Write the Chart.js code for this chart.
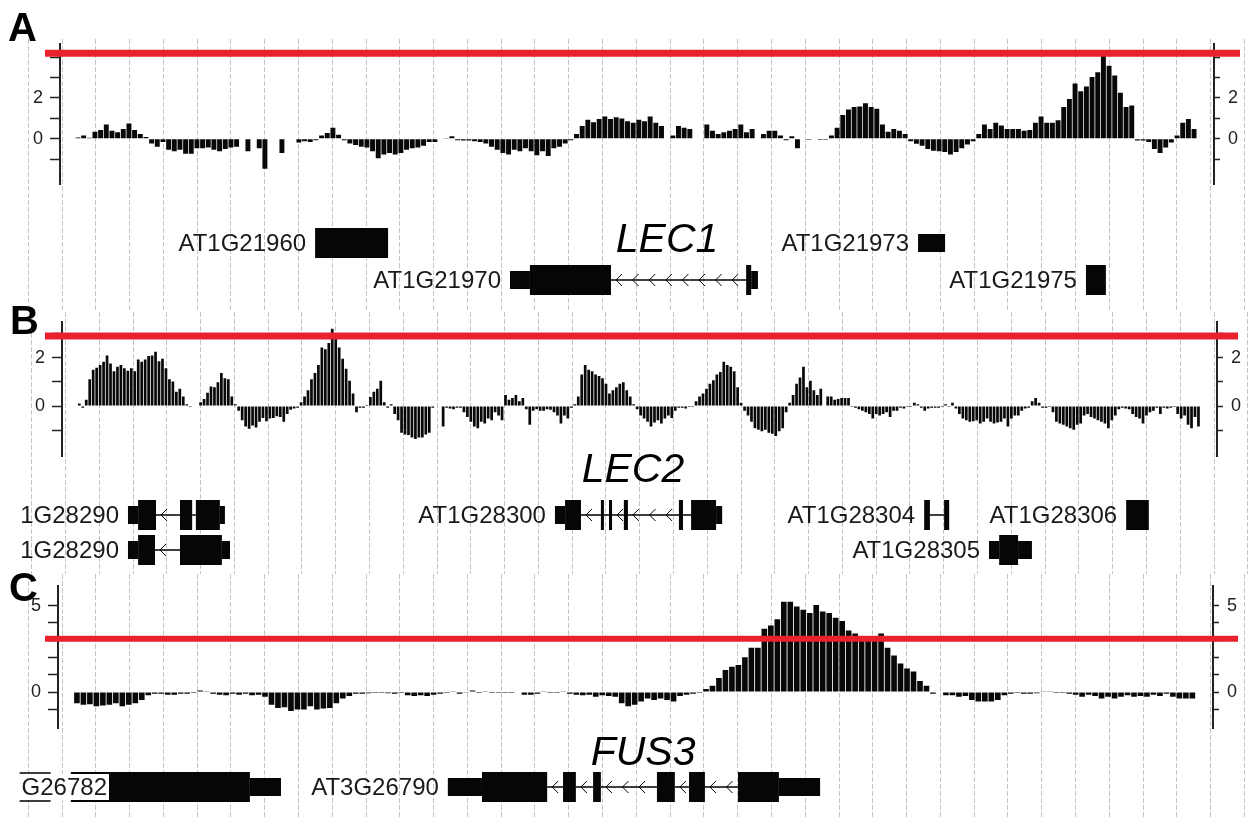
<!DOCTYPE html>
<html>
<head>
<meta charset="utf-8">
<script src="https://cdn.jsdelivr.net/npm/chart.js@4.4.1/dist/chart.umd.min.js"></script>
<style>
  html, body { margin: 0; padding: 0; background: #fff; }
  #fig { position: relative; width: 1252px; height: 819px; overflow: hidden; background: #fff; }
  #fig canvas { position: absolute; left: 0; }
  .tag { position: absolute; font: bold 40px "Liberation Sans", Arial, sans-serif; line-height: 40px; color: #000; }
</style>
</head>
<body>
<div id="fig">
  <canvas id="bgA" width="1252"></canvas>
  <canvas id="bgB" width="1252"></canvas>
  <canvas id="bgC" width="1252"></canvas>
  <canvas id="sigA" width="1252"></canvas>
  <canvas id="sigB" width="1252"></canvas>
  <canvas id="sigC" width="1252"></canvas>
  <div class="tag" style="left:8px;top:7px">A</div>
  <div class="tag" style="left:10px;top:300px">B</div>
  <div class="tag" style="left:9px;top:567px">C</div>
</div>
<script>
// ---- data: positions are in grid units (one dashed grid interval = 1) ----

// Panel A - LEC1 region
const lec1Signal = [
  0.06, 0.16, 0.05, 0.34, 0.43, 0.70, 0.39, 0.31, 0.47, 0.74, 0.43, 0.23, 0.08, -0.23, -0.39, -0.16, -0.54, -0.62, -0.54, -0.74,
  -0.74, -0.47, -0.47, -0.43, -0.54, -0.62, -0.5, -0.43, -0.39, null, -0.62, null, -0.47, -1.47, null, null, -0.7, null, null, -0.19,
  -0.12, -0.16, -0.08, 0.16, 0.28, 0.54, 0.19, -0.08, -0.23, -0.31, -0.39, -0.43, -0.62, -0.96, -0.78, -0.7, -0.78, -0.7, -0.54, -0.47,
  -0.43,
  -0.34, -0.16, -0.16, null, 0.03, 0.12, -0.08, -0.09, -0.09, -0.12, -0.16, -0.23, -0.39, -0.54, -0.7, -0.78, -0.54, -0.62, -0.47, -0.62,
  -0.81, -0.62, -0.85, -0.47, -0.39, -0.23, -0.08, 0.23, 0.62, 0.93, 0.81, 0.96, 1.09, 0.96, 1.05, 0.99, 0.85, 0.78, 0.93, 0.85,
  1.09, 0.78, 0.62, null, 0.16, 0.62, 0.54, 0.47, null, null, 0.7, 0.39, 0.23, 0.31, 0.39, 0.47, 0.7, 0.31, 0.47, null,
  0.23, 0.39, 0.39, 0.16, -0.08, 0.12, -0.47, null, -0.05, null, -0.05,
  -0.05, 0.16, 0.54, 1.16, 1.43, 1.55, 1.58, 1.74, 1.55, 1.47, 0.7, 0.34, 0.47, 0.39, 0.23, -0.12, -0.25, -0.34, -0.5, -0.59,
  -0.62, -0.65, -0.78, -0.65, -0.47, -0.28, -0.12, 0.23, 0.7, 0.47, 0.78, 0.65, 0.47, 0.47, 0.47, 0.39, 0.43, 0.78, 1.09, 0.78,
  0.78, 0.9, 1.55, 1.94, 2.71, 2.33, 2.56, 3.02, 3.26, 4.05, 3.57, 3.1, 2.25, 1.55, 1.63, -0.09, -0.09, -0.16, -0.5, -0.7,
  -0.43, -0.19, 0.16, 0.78, 0.96, 0.47
];
const lec1Start = 1.47;
const lec1End = 34.51;
const lec1Threshold = 4.19;
const lec1YTicks = [-1, 0, 1, 2, 3, 4];
const lec1YLabels = [0, 2];
const lec1Genes = [
  { name: 'AT1G21960', row: 0, strand: '+', parts: [[8.49, 10.65, 'cds']] },
  { name: 'AT1G21970', row: 1, strand: '-', parts: [[14.26, 14.85, 'utr'], [14.85, 17.25, 'cds'], [21.25, 21.40, 'cds'], [21.40, 21.60, 'utr']] },
  { name: 'AT1G21973', row: 0, strand: '+', parts: [[26.34, 27.14, 'utr']] },
  { name: 'AT1G21975', row: 1, strand: '+', parts: [[31.31, 31.90, 'cds']] }
];

// Panel B - LEC2 region
const lec2Signal = [
  0.10, -0.07, 0.26, 1.11, 1.5, 1.59, 1.7, 1.83, 2.09, 1.76, 1.44, 1.63, 1.7, 1.57, 1.46, 1.57, 1.44, 1.93, 1.83, 1.93,
  2.07, 2.09, 2.25, 1.86, 1.96, 1.57, 1.11, 1.02, 0.59, 0.72, 0.39, 0.07, -0.04, null, null, 0.16, 0.29, 0.55, 0.81, 0.78,
  0.98, 1.37, 1.15, 1.11, 0.39, 0.07, -0.2, -0.59, -0.85, -0.94, -0.81, -0.89, -0.65, -0.5, -0.63, -0.52, -0.5, -0.42, -0.46, -0.65,
  -0.33, -0.16, -0.1, -0.07, 0.16, 0.39, 0.65, 1.11, 1.37, 1.7, 2.42, 2.35, 2.61, 3.2, 2.81, 2.42, 1.96, 1.54, 1.05, 0.52,
  -0.26, -0.07, -0.07, 0.04, 0.37, 0.59, 0.72, 1.05, 0.16, -0.07, 0.07, -0.33, -0.59, -1.11, -1.18, -1.2, -1.31, -1.37, -1.31,
  -1.31, -1.18, -1.11, -0.07, null, null, -0.85, -0.07, -0.1, -0.13, -0.07, -0.07, -0.26, -0.46, -0.65, -0.85, -0.92, -0.65, -0.72, -0.52,
  -0.59, -0.26, -0.39, -0.59, 0.46, 0.26, 0.33, 0.46, 0.2, 0.33, -0.13, -0.78, -0.2, -0.13, -0.2, -0.2, -0.13, -0.16, -0.26, -0.39,
  -0.72, -0.39, -0.52, -0.07, 0.07, 0.39, 1.31, 1.7, 1.5, 1.44, 1.31, 1.24, 1.15, 0.92, 0.52, 0.65, 0.78, 0.92, 0.98, 0.65,
  0.39, 0.07, -0.13, -0.39, -0.52, -0.65, -0.85, -0.68, -0.59, -0.72, -0.52, -0.39, -0.5, -0.2, -0.07, -0.07, -0.1, -0.04, -0.04, 0.2,
  0.39, 0.52, 0.72, 0.92, 1.07, 1.31, 1.41, 1.83, 1.7, 1.63, 1.44, 0.78, 0.13, -0.2, -0.39, -0.65, -0.92, -0.98, -1.05, -0.98,
  -1.11, -1.15, -1.24, -1.05, -0.92, -0.26, 0.13, 0.46, 0.92, 1.18, 1.63, 0.78, 1.05, 0.65, 0.46,
  0.72, null, 0.39, 0.39, 0.26, 0.29, 0.33, 0.33, 0.33, -0.04, -0.07, -0.13, -0.2, -0.26, -0.33, -0.52, -0.33, -0.39, -0.33, -0.26,
  -0.46, -0.2, -0.2, -0.07, -0.1, -0.04, -0.04, 0.13, 0.07, -0.07, -0.2, -0.1, -0.07, -0.07, -0.07, -0.04, 0.07, -0.04, 0.13, -0.1,
  -0.33, -0.52, -0.59, -0.65, -0.63, -0.59, -0.72, -0.65, -0.52, -0.65, -0.72, -0.68, -0.65, -0.52, -0.85, -0.52, -0.39, -0.39, -0.2, -0.1,
  -0.07, 0.2, 0.33, 0.13, -0.07, -0.07, -0.04, -0.26, -0.65, -0.72, -0.78, -0.85, -0.92, -0.98, -0.78, -0.72, -0.39, -0.33, -0.46, -0.52,
  -0.59, -0.65, -0.72, -0.92, -0.59, -0.39, -0.13, -0.07, -0.1, -0.13, -0.33, -0.46, -0.52, -0.72, -0.39, -0.26, -0.2, -0.07, -0.33, -0.07,
  -0.1, -0.07, -0.04, -0.33, -0.52, -0.39, -0.78, -0.92, -0.46, -0.85
];
const lec2Start = 1.41;
const lec2End = 34.54;
const lec2Threshold = 2.9;
const lec2YTicks = [-1, 0, 1, 2, 3];
const lec2YLabels = [0, 2];
const lec2Genes = [
  { name: '1G28290', row: 0, strand: '-', parts: [[2.85, 3.15, 'utr'], [3.15, 3.68, 'cds'], [4.39, 4.75, 'cds'], [4.86, 5.57, 'cds'], [5.57, 5.72, 'utr']] },
  { name: '1G28290', row: 1, strand: '-', parts: [[2.85, 3.15, 'utr'], [3.15, 3.65, 'cds'], [4.39, 5.63, 'cds'], [5.63, 5.87, 'utr']] },
  { name: 'AT1G28300', row: 0, strand: '-', parts: [[15.49, 15.79, 'utr'], [15.79, 16.26, 'cds'], [16.85, 16.94, 'cds'], [17.09, 17.18, 'cds'], [17.53, 17.65, 'cds'], [19.16, 19.28, 'cds'], [19.52, 20.26, 'cds'], [20.26, 20.44, 'utr']] },
  { name: 'AT1G28304', row: 0, strand: '+', parts: [[26.42, 26.59, 'cds'], [27.01, 27.16, 'cds']] },
  { name: 'AT1G28306', row: 0, strand: '+', parts: [[32.40, 33.07, 'cds']] },
  { name: 'AT1G28305', row: 1, strand: '+', parts: [[28.34, 28.64, 'utr'], [28.64, 29.20, 'cds'], [29.20, 29.61, 'utr']] }
];

// Panel C - FUS3 region
const fus3Signal = [
  -0.64, -0.73, -0.7, -0.82, -0.77, -0.73, -0.64, -0.82, -0.73, -0.64, -0.46, -0.18, -0.09, -0.09, -0.15, -0.15, -0.09, -0.09, -0.05, 0.09,
  0.05, -0.09, -0.15, -0.18, -0.09, -0.15, -0.09, -0.18, -0.15, -0.27, -0.73, -0.92, -0.88, -1.1, -1.01, -1.01, -0.82, -1.01, -0.95, -0.92,
  -0.64, -0.37, -0.22, -0.09, -0.09, -0.07, -0.05, -0.05, -0.07, -0.09, -0.05, -0.18, -0.22, -0.18, -0.22, -0.15, -0.09, -0.05, 0.05, -0.09,
  -0.04, 0.09, -0.05, 0.05, -0.05, -0.05, -0.05, -0.05, null, -0.15, -0.15, -0.09, 0.05, -0.05, -0.05, 0.05, -0.09, -0.15, -0.18, -0.15,
  -0.27, -0.18, -0.22, -0.27,
  -0.64, -0.82, -0.73, -0.55, -0.37, -0.46, -0.37, -0.46, -0.55, -0.22, -0.15, -0.09, -0.05, 0.18, 0.37, 0.82, 1.28, 1.47, 1.56, 2.01,
  2.56, 2.56, 3.66, 3.85, 4.21, 5.22, 5.22, 4.95, 4.76, 4.58, 5.04, 4.67, 4.58, 4.3, 4.12, 3.57, 3.39, 3.11, 3.21, 3.21,
  3.39, 2.56, 2.11, 1.65, 1.37, 1.19, 0.64, 0.37, -0.09, null, -0.18, -0.18, -0.27, -0.22, -0.46, -0.55, -0.55, -0.55, -0.46, -0.18,
  -0.09, -0.05, -0.09, -0.09, -0.07, 0.05, 0.05, -0.05, -0.05, -0.09, -0.15, -0.27, -0.15, -0.22, -0.37, -0.27, -0.37, -0.27, -0.18, -0.27,
  -0.22, -0.27, -0.15, -0.22, -0.09, -0.27, -0.37, -0.37, -0.37
];
const fus3Start = 1.44;
const fus3End = 34.46;
const fus3Threshold = 3.08;
const fus3YTicks = [-1, 0, 1, 2, 3, 4, 5];
const fus3YLabels = [0, 5];
const fus3Genes = [
  { name: 'G26782', row: 0, strand: '+', parts: [[1.26, 6.56, 'cds'], [6.56, 7.48, 'utr']], labelAt: 2.33, boxed: true },
  { name: 'AT3G26790', row: 0, strand: '-', parts: [[12.42, 13.43, 'utr'], [13.43, 15.36, 'cds'], [15.83, 16.21, 'cds'], [16.72, 16.95, 'cds'], [18.61, 19.14, 'cds'], [19.56, 20.03, 'cds'], [21.01, 22.22, 'cds'], [22.22, 23.44, 'utr']] }
];

// ---- layout / style ----
const FIG_W = 1252;
const GRID_PX = 33.78;          // screen width of one grid interval
const SIG_PAD = 15;
const YL_W = 45, YR_W = 34;
const FONT = '"Liberation Sans", Arial, sans-serif';
const RED = '#e9212d';
const GRID_COLOR = 'rgba(150,150,150,0.55)';

const panels = [
  { key: 'A', signal: lec1Signal, start: lec1Start, end: lec1End, threshold: lec1Threshold,
    yTicks: lec1YTicks, yLabels: lec1YLabels, genes: lec1Genes, title: 'LEC1', titleX: 18.91, titleRow: 0.24,
    off: 28.3, top: 39, bottom: 312, axisL: 60, axisR: 1214, sigTop: 40, sigBottom: 188,
    yMin: -2.23, yMax: 4.65, thrW: 7, redFrom: 45, redTo: 1240, row0: 243, rowStep: 37, barPct: 0.87 },
  { key: 'B', signal: lec2Signal, start: lec2Start, end: lec2End, threshold: lec2Threshold,
    yTicks: lec2YTicks, yLabels: lec2YLabels, genes: lec2Genes, title: 'LEC2', titleX: 17.8, titleRow: -0.94,
    off: 31.7, top: 312, bottom: 574, axisL: 62, axisR: 1217, sigTop: 318, sigBottom: 460,
    yMin: -2.08, yMax: 3.49, thrW: 7, redFrom: 45, redTo: 1238, row0: 515, rowStep: 35, barPct: 0.78 },
  { key: 'C', signal: fus3Signal, start: fus3Start, end: fus3End, threshold: fus3Threshold,
    yTicks: fus3YTicks, yLabels: fus3YLabels, genes: fus3Genes, title: 'FUS3', titleX: 18.2, titleRow: -0.61,
    off: 28.3, top: 574, bottom: 819, axisL: 58, axisR: 1213, sigTop: 582, sigBottom: 732,
    yMin: -2.09, yMax: 6.15, thrW: 6, redFrom: 45, redTo: 1238, row0: 787, rowStep: 36, barPct: 0.87 }
];

function pxToUnit(p, px) {
  return (px - p.off) / GRID_PX;
}

// gene models drawn on the background chart, through its x scale and row scale
function drawGenes(chart, p) {
  const { ctx } = chart;
  const x = chart.scales.x;
  const y = chart.scales.y;
  ctx.save();
  p.genes.forEach(g => {
    const yc = y.getPixelForValue(g.row);
    // introns
    for (let i = 1; i < g.parts.length; i++) {
      const a = x.getPixelForValue(g.parts[i - 1][1]);
      const b = x.getPixelForValue(g.parts[i][0]);
      if (b - a < 1) continue;
      ctx.strokeStyle = '#000';
      ctx.lineWidth = 1.5;
      ctx.beginPath();
      ctx.moveTo(a, yc);
      ctx.lineTo(b, yc);
      ctx.stroke();
      if (g.strand === '-') {
        ctx.lineWidth = 1;
        for (let cx = a + 6; cx < b - 5; cx += 16.6) {
          ctx.beginPath();
          ctx.moveTo(cx + 5, yc - 6);
          ctx.lineTo(cx - 1, yc);
          ctx.lineTo(cx + 5, yc + 6);
          ctx.stroke();
        }
      }
    }
    // exons
    ctx.fillStyle = '#060606';
    g.parts.forEach(([s, e, kind]) => {
      const h = kind === 'cds' ? 30 : 18;
      const a = x.getPixelForValue(s);
      const b = x.getPixelForValue(e);
      ctx.fillRect(a, yc - h / 2, b - a, h);
    });
    // label
    ctx.font = '24px ' + FONT;
    ctx.textAlign = 'right';
    ctx.textBaseline = 'middle';
    let lx;
    if (g.labelAt !== undefined) {
      lx = x.getPixelForValue(g.labelAt);
    } else {
      lx = x.getPixelForValue(g.parts[0][0]) - 9;
    }
    if (g.boxed) {
      // label sits in a white box laid over the start of the gene
      const w = ctx.measureText(g.name).width;
      ctx.fillStyle = '#fff';
      ctx.fillRect(lx - w - 2, yc - 13, w + 4, 26);
      ctx.strokeStyle = '#000';
      ctx.lineWidth = 1.5;
      ctx.beginPath();
      ctx.moveTo(lx - w - 2, yc - 14);
      ctx.lineTo(lx - w + 29, yc - 14);
      ctx.moveTo(lx - w - 2, yc + 14);
      ctx.lineTo(lx - w + 29, yc + 14);
      ctx.stroke();
    }
    ctx.fillStyle = '#1a1a1a';
    ctx.fillText(g.name, lx, yc + 1);
  });
  // gene name in italics
  ctx.font = 'italic 41px ' + FONT;
  ctx.textAlign = 'center';
  ctx.textBaseline = 'alphabetic';
  ctx.fillStyle = '#000';
  ctx.fillText(p.title, x.getPixelForValue(p.titleX), y.getPixelForValue(p.titleRow));
  ctx.restore();
}

function buildBackground(p) {
  const canvas = document.getElementById('bg' + p.key);
  const H = p.bottom - p.top;
  canvas.height = H;
  canvas.style.top = p.top + 'px';
  const rowMin = -(p.row0 - p.top) / p.rowStep;
  new Chart(canvas, {
    type: 'scatter',
    data: { datasets: [{ data: [] }] },
    options: {
      responsive: false,
      animation: false,
      events: [],
      layout: { padding: 0 },
      plugins: { legend: { display: false }, tooltip: { enabled: false } },
      scales: {
        x: {
          type: 'linear',
          min: pxToUnit(p, 0),
          max: pxToUnit(p, FIG_W),
          afterBuildTicks: s => {
            const t = [];
            for (let v = Math.ceil(s.min); v <= s.max; v++) t.push({ value: v });
            s.ticks = t;
          },
          ticks: { display: false },
          grid: { color: GRID_COLOR, lineWidth: 1, drawTicks: false },
          border: { display: false, dash: [5, 2] }
        },
        y: { type: 'linear', display: false, reverse: true, min: rowMin, max: rowMin + H / p.rowStep }
      }
    },
    plugins: [{ id: 'genes', afterDraw: chart => drawGenes(chart, p) }]
  });
}

function yAxis(p, position, width, tickLength, padding) {
  return {
    type: 'linear',
    position: position,
    min: p.yMin,
    max: p.yMax,
    afterFit: s => { s.width = width; },
    afterBuildTicks: s => { s.ticks = p.yTicks.map(v => ({ value: v })); },
    ticks: {
      autoSkip: false,
      padding: padding,
      color: '#222',
      font: { family: FONT, size: 18 },
      callback: v => (p.yLabels.includes(v) ? String(v) : '')
    },
    grid: { drawOnChartArea: false, drawTicks: true, tickLength: tickLength, tickColor: '#222', tickWidth: 1.5 },
    border: { display: true, color: '#222', width: 2 }
  };
}

function buildSignal(p) {
  const canvas = document.getElementById('sig' + p.key);
  canvas.height = p.sigBottom - p.sigTop + 2 * SIG_PAD;
  canvas.style.top = (p.sigTop - SIG_PAD) + 'px';
  const n = p.signal.length;
  const step = (p.end - p.start) / (n - 1);
  const bars = p.signal.map((v, i) => ({ x: p.start + i * step, y: v }));
  new Chart(canvas, {
    type: 'bar',
    data: {
      datasets: [
        {
          type: 'line',
          data: [{ x: pxToUnit(p, p.redFrom), y: p.threshold }, { x: pxToUnit(p, p.redTo), y: p.threshold }],
          borderColor: RED,
          borderWidth: p.thrW,
          borderCapStyle: 'butt',
          pointRadius: 0,
          clip: false,
          order: 0
        },
        {
          type: 'bar',
          data: bars,
          backgroundColor: '#080808',
          borderWidth: 0,
          barPercentage: p.barPct,
          categoryPercentage: 1,
          order: 1
        }
      ]
    },
    options: {
      responsive: false,
      animation: false,
      events: [],
      layout: { padding: { top: SIG_PAD, bottom: SIG_PAD, left: p.axisL - YL_W, right: FIG_W - p.axisR - YR_W } },
      plugins: { legend: { display: false }, tooltip: { enabled: false } },
      scales: {
        x: { type: 'linear', display: false, offset: false, min: pxToUnit(p, p.axisL), max: pxToUnit(p, p.axisR) },
        y: yAxis(p, 'left', YL_W, 10, 7),
        y2: yAxis(p, 'right', YR_W, 6, 8)
      }
    }
  });
}

panels.forEach(p => {
  buildBackground(p);
  buildSignal(p);
});
</script>
</body>
</html>
